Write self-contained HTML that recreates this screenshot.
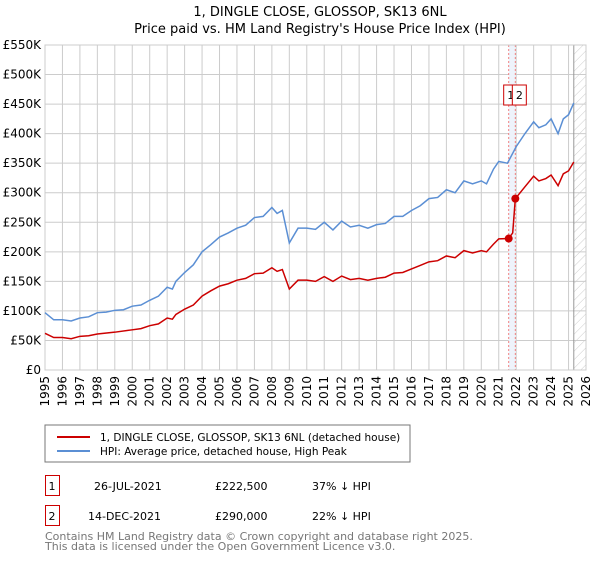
<!DOCTYPE html>
<html><head><meta charset="utf-8"><style>
body{margin:0;background:#fff;font-family:"DejaVu Sans","Liberation Sans",sans-serif;}
svg text{font-family:"DejaVu Sans","Liberation Sans",sans-serif;}
</style></head><body>
<svg id="c" width="600" height="560" xmlns="http://www.w3.org/2000/svg">
<defs><pattern id="hatch" width="6" height="6" patternUnits="userSpaceOnUse" patternTransform="rotate(45)"><line x1="0" y1="0" x2="0" y2="6" stroke="#ccc" stroke-width="1"/></pattern></defs>
<text x="320" y="16" text-anchor="middle" font-size="13">1, DINGLE CLOSE, GLOSSOP, SK13 6NL</text>
<text x="320" y="33" text-anchor="middle" font-size="13">Price paid vs. HM Land Registry's House Price Index (HPI)</text>
<g id="grid"></g><g id="marks"></g>
<rect x="45" y="425" width="365" height="37" fill="#fff" stroke="#777"/>
<line x1="57" y1="437" x2="90" y2="437" stroke="#cc0000" stroke-width="2"/>
<text x="100" y="441" font-size="10.5">1, DINGLE CLOSE, GLOSSOP, SK13 6NL (detached house)</text>
<line x1="57" y1="451" x2="90" y2="451" stroke="#5b8fd4" stroke-width="2"/>
<text x="100" y="455" font-size="10.5">HPI: Average price, detached house, High Peak</text>
<g font-size="11">
<rect x="45.5" y="475.5" width="14" height="20" fill="none" stroke="#cc0000"/>
<text x="52" y="490" text-anchor="middle">1</text>
<text x="94" y="490">26-JUL-2021</text><text x="215" y="490">£222,500</text><text x="312" y="490">37% ↓ HPI</text>
<rect x="45.5" y="505.5" width="14" height="20" fill="none" stroke="#cc0000"/>
<text x="52" y="520" text-anchor="middle">2</text>
<text x="88" y="520">14-DEC-2021</text><text x="215" y="520">£290,000</text><text x="312" y="520">22% ↓ HPI</text>
</g>
<text x="45" y="540" font-size="11" fill="#777">Contains HM Land Registry data © Crown copyright and database right 2025.</text>
<text x="45" y="550" font-size="11" fill="#777">This data is licensed under the Open Government Licence v3.0.</text>
</svg>
<script>
const yTicks=[0,50,100,150,200,250,300,350,400,450,500,550];
const yTickLabels=["£0","£50K","£100K","£150K","£200K","£250K","£300K","£350K","£400K","£450K","£500K","£550K"];
const xYears=[1995,1996,1997,1998,1999,2000,2001,2002,2003,2004,2005,2006,2007,2008,2009,2010,2011,2012,2013,2014,2015,2016,2017,2018,2019,2020,2021,2022,2023,2024,2025,2026];
const hpiT=[1995,1995.5,1996,1996.5,1997,1997.5,1998,1998.5,1999,1999.5,2000,2000.5,2001,2001.5,2002,2002.3,2002.5,2003,2003.5,2004,2004.5,2005,2005.5,2006,2006.5,2007,2007.5,2008,2008.3,2008.6,2009,2009.5,2010,2010.5,2011,2011.5,2012,2012.5,2013,2013.5,2014,2014.5,2015,2015.5,2016,2016.5,2017,2017.5,2018,2018.5,2019,2019.5,2020,2020.3,2020.7,2021,2021.5,2022,2022.5,2023,2023.3,2023.7,2024,2024.4,2024.7,2025,2025.3];
const hpiV=[97,85,85,83,88,90,97,98,101,102,108,110,118,125,140,137,150,165,178,200,212,225,232,240,245,258,260,275,265,270,215,240,240,238,250,237,252,242,245,240,246,248,260,260,270,278,290,292,305,300,320,315,320,315,340,353,350,378,400,420,410,415,425,400,425,432,452];
const priceT=[1995,1995.5,1996,1996.5,1997,1997.5,1998,1999,2000,2000.5,2001,2001.5,2002,2002.3,2002.5,2003,2003.5,2004,2004.5,2005,2005.5,2006,2006.5,2007,2007.5,2008,2008.3,2008.6,2009,2009.5,2010,2010.5,2011,2011.5,2012,2012.5,2013,2013.5,2014,2014.5,2015,2015.5,2016,2016.5,2017,2017.5,2018,2018.5,2019,2019.5,2020,2020.3,2020.7,2021,2021.57,2021.8,2021.95,2022.5,2023,2023.3,2023.7,2024,2024.4,2024.7,2025,2025.3];
const priceV=[62,55,55,53,57,58,61,64,68,70,75,78,88,86,94,103,110,125,134,142,146,152,155,163,164,173,167,170,137,152,152,150,158,150,159,153,155,152,155,157,164,165,171,177,183,185,193,190,202,198,202,200,213,222,222.5,232,290,310,328,320,324,330,312,332,337,352];
const saleT=[2021.57,2021.95];
const saleV=[222.5,290];
const saleLabels=["1","2"];
const x0=45,x1=586,y0=370,y1=45;
const X=t=>x0+(t-1995)/(2026-1995)*(x1-x0);
const Y=v=>y0-v/550*(y0-y1);
const NS="http://www.w3.org/2000/svg";
function mk(tag,attrs,parent,txt){const e=document.createElementNS(NS,tag);for(const k in attrs)e.setAttribute(k,attrs[k]);if(txt!==undefined)e.textContent=txt;parent.appendChild(e);return e;}
const grid=document.getElementById('grid'),marks=document.getElementById('marks');
yTicks.forEach((v,i)=>{
 const l=mk('line',{x1:x0,x2:x1,y1:Y(v),y2:Y(v),stroke:'#ccc'},grid);
 
 
 const t=mk('text',{x:x0-4,y:Y(v)+4,'text-anchor':'end','font-size':12},grid,yTickLabels[i]);
 
 
});
xYears.forEach(yr=>{
 const l=mk('line',{x1:X(yr),x2:X(yr),y1:y1,y2:y0,stroke:'#ccc'},grid);
 
 
 const t=mk('text',{x:0,y:0,'text-anchor':'end','font-size':12,transform:`translate(${X(yr)+4},${y0+6}) rotate(-90)`},grid,String(yr));
 
 
});
const hx=X(2025.3);
const h=mk('rect',{x:hx,y:y1,width:x1-hx,height:y0-y1,fill:'url(#hatch)'},marks);


const hl=mk('line',{x1:hx,x2:hx,y1:y1,y2:y0,stroke:'#999'},marks);


const band=mk('rect',{x:X(saleT[0]),y:y1,width:X(saleT[1])-X(saleT[0]),height:y0-y1,fill:'#eef3fb'},marks);


saleT.forEach((t,i)=>{
 const l=mk('line',{x1:X(t),x2:X(t),y1:y1,y2:y0,stroke:'#f08080','stroke-dasharray':'2,2'},marks);
 
 
});
const ax=mk('rect',{x:x0,y:y1,width:x1-x0,height:y0-y1,fill:'none',stroke:'#ccc'},marks);


const hp=mk('polyline',{points:hpiT.map((t,i)=>X(t)+','+Y(hpiV[i])).join(' '),fill:'none',stroke:'#5b8fd4','stroke-width':1.5},marks);


const pp=mk('polyline',{points:priceT.map((t,i)=>X(t)+','+Y(priceV[i])).join(' '),fill:'none',stroke:'#cc0000','stroke-width':1.5},marks);


saleT.forEach((t,i)=>{
 const c=mk('circle',{cx:X(t),cy:Y(saleV[i]),r:4,fill:'#cc0000'},marks);
 
 
 const bx=X(t)-(i===0?5:3);
 const r=mk('rect',{x:bx,y:85,width:14,height:20,fill:'#fff',stroke:'#cc0000'},marks);
 
 
 const tx=mk('text',{x:bx+7,y:99,'text-anchor':'middle','font-size':11},marks,saleLabels[i]);
 
 
});
</script>
</body></html>
